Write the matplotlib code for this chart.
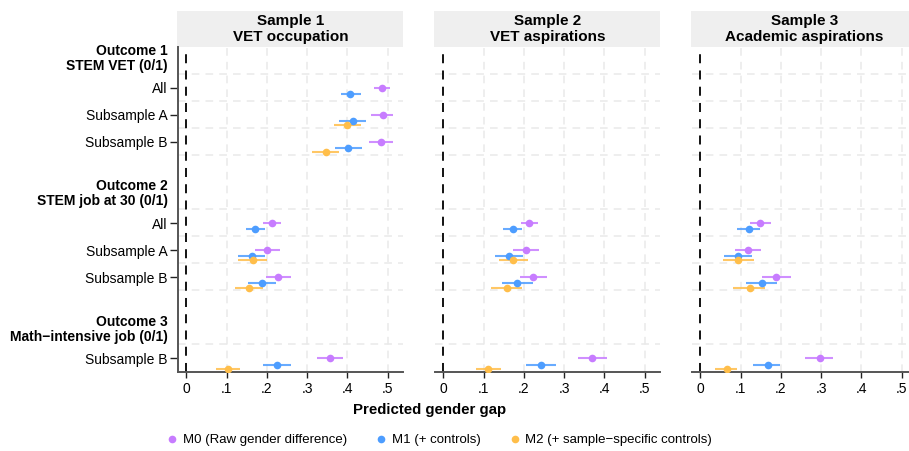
import numpy as np
import matplotlib
matplotlib.use("Agg")
import matplotlib.pyplot as plt
from matplotlib.lines import Line2D
from matplotlib.patches import Rectangle

plt.rcParams["font.family"] = ["Liberation Sans", "DejaVu Sans"]

nan = np.nan

# panels, rows and models
samples = ["Sample 1\nVET occupation", "Sample 2\nVET aspirations", "Sample 3\nAcademic aspirations"]
headers = ["Outcome 1\nSTEM VET (0/1)", "Outcome 2\nSTEM job at 30 (0/1)", "Outcome 3\nMath\u2212intensive job (0/1)"]
header_pos = [0, 5, 10]
row_labels = ["All", "Subsample A", "Subsample B", "All", "Subsample A", "Subsample B", "Subsample B"]
row_pos = [1, 2, 3, 6, 7, 8, 11]
models = ["M0 (Raw gender difference)", "M1 (+ controls)", "M2 (+ sample\u2212specific controls)"]
colors = ["#c77cff", "#4d9dff", "#ffbe4a"]
offsets = [0.0, 0.23, 0.38]

# estimates and 95% CIs, per sample: [M0, M1, M2] each over rows
est1 = [[0.487, 0.4875, 0.4825, 0.2125, 0.200, 0.228, 0.3575],
        [0.4075, 0.413, 0.402, 0.171, 0.1625, 0.1875, 0.224],
        [nan, 0.399, 0.347, nan, 0.165, 0.156, 0.103]]
lo1 = [[0.466, 0.459, 0.453, 0.191, 0.170, 0.197, 0.324],
       [0.384, 0.380, 0.370, 0.1475, 0.129, 0.152, 0.190],
       [nan, 0.366, 0.313, nan, 0.129, 0.120, 0.074]]
hi1 = [[0.506, 0.514, 0.5125, 0.234, 0.2325, 0.260, 0.389],
       [0.4325, 0.447, 0.435, 0.195, 0.196, 0.2225, 0.259],
       [nan, 0.434, 0.380, nan, 0.200, 0.191, 0.134]]

est2 = [[nan, nan, nan, 0.212, 0.205, 0.222, 0.370],
        [nan, nan, nan, 0.172, 0.163, 0.183, 0.243],
        [nan, nan, nan, nan, 0.174, 0.157, 0.111]]
lo2 = [[nan, nan, nan, 0.1915, 0.1725, 0.189, 0.335],
       [nan, nan, nan, 0.1485, 0.128, 0.146, 0.206],
       [nan, nan, nan, nan, 0.1385, 0.1185, 0.0805]]
hi2 = [[nan, nan, nan, 0.234, 0.237, 0.257, 0.406],
       [nan, nan, nan, 0.195, 0.198, 0.222, 0.2795],
       [nan, nan, nan, nan, 0.210, 0.195, 0.143]]

est3 = [[nan, nan, nan, 0.1485, 0.118, 0.188, 0.297],
        [nan, nan, nan, 0.120, 0.094, 0.152, 0.167],
        [nan, nan, nan, nan, 0.0945, 0.124, 0.066]]
lo3 = [[nan, nan, nan, 0.122, 0.085, 0.152, 0.260],
       [nan, nan, nan, 0.092, 0.058, 0.114, 0.130],
       [nan, nan, nan, nan, 0.0556, 0.082, 0.037]]
hi3 = [[nan, nan, nan, 0.175, 0.151, 0.2255, 0.330],
       [nan, nan, nan, 0.1485, 0.129, 0.190, 0.198],
       [nan, nan, nan, nan, 0.1326, 0.161, 0.092]]

xticks = [0, 0.1, 0.2, 0.3, 0.4, 0.5]
xticklabels = ["0", ".1", ".2", ".3", ".4", ".5"]

W, H = 909, 451
fig = plt.figure(figsize=(W / 100, H / 100), dpi=100)

ax_left = [178, 435, 692]
ax_w, ax_top, ax_bot = 225, 47, 372
grid_rows = [0, 1, 2, 3, 5, 6, 7, 8, 10]
spine_col = "#555555"

for k, (est, lo, hi) in enumerate([(est1, lo1, hi1), (est2, lo2, hi2), (est3, lo3, hi3)]):
    ax = fig.add_axes([ax_left[k] / W, 1 - ax_bot / H, ax_w / W, (ax_bot - ax_top) / H])
    ax.set_xlim(-0.021, 0.538)
    ax.set_ylim(11.5, -0.5)

    # grid
    for g in grid_rows:
        ax.axhline(g + 0.48, color="#e9e9e9", lw=1.1, ls=(0, (5, 4)), zorder=0)
    for xv in xticks[1:]:
        ax.axvline(xv, color="#e9e9e9", lw=1.1, ls=(0, (5, 4)), zorder=0)
    ax.axvline(0, color="black", lw=1.3, ls=(0, (5, 4)), zorder=1)

    for m in range(3):
        y = np.array(row_pos) + offsets[m]
        e, l, h = np.array(est[m]), np.array(lo[m]), np.array(hi[m])
        ax.hlines(y, l, h, color=colors[m], lw=1.5, alpha=0.85, zorder=2)
        ax.plot(e, y, "o", ms=5.5, color=colors[m], mec="none", zorder=3)

    for s in ["top", "right"]:
        ax.spines[s].set_visible(False)
    ax.spines["bottom"].set_color(spine_col)
    ax.spines["bottom"].set_linewidth(1.4)
    ax.set_xticks(xticks)
    ax.set_xticklabels(xticklabels, fontsize=10)
    ax.tick_params(axis="x", length=4.5, width=1, color="#222222", pad=3)

    if k == 0:
        ax.spines["left"].set_color(spine_col)
        ax.spines["left"].set_linewidth(1.4)
        ax.set_yticks(row_pos)
        ax.set_yticklabels(row_labels, fontsize=10)
        ax.tick_params(axis="y", length=5.5, width=1, color="#222222", pad=2)
        for hp, ht in zip(header_pos, headers):
            ax.text(-0.045, hp - 0.08, ht, transform=ax.get_yaxis_transform(),
                    ha="right", va="center", fontsize=10, fontweight="bold",
                    linespacing=1.12)
    else:
        ax.spines["left"].set_visible(False)
        ax.set_yticks([])

    # strip
    sh = 36 / (ax_bot - ax_top)
    ax.add_patch(Rectangle((-0.005, 1.0), 1.005, sh, transform=ax.transAxes,
                           facecolor="#efefef", edgecolor="none", clip_on=False))
    ax.text(0.5, 1 + sh / 2, samples[k], transform=ax.transAxes, ha="center",
            va="center", fontsize=11, fontweight="bold", linespacing=1.2)

fig.text(430 / W, 1 - 410 / H, "Predicted gender gap", ha="center", va="center",
         fontsize=10.8, fontweight="bold")

handles = [Line2D([], [], ls="none", marker="o", ms=5.5, color=c, mec="none") for c in colors]
fig.legend(handles, models, loc="center", bbox_to_anchor=(438 / W, 1 - 440 / H),
           ncol=3, frameon=False, fontsize=9.5, handletextpad=0.2,
           columnspacing=2.0, handlelength=1.2)

fig.savefig("out.png", dpi=100)
